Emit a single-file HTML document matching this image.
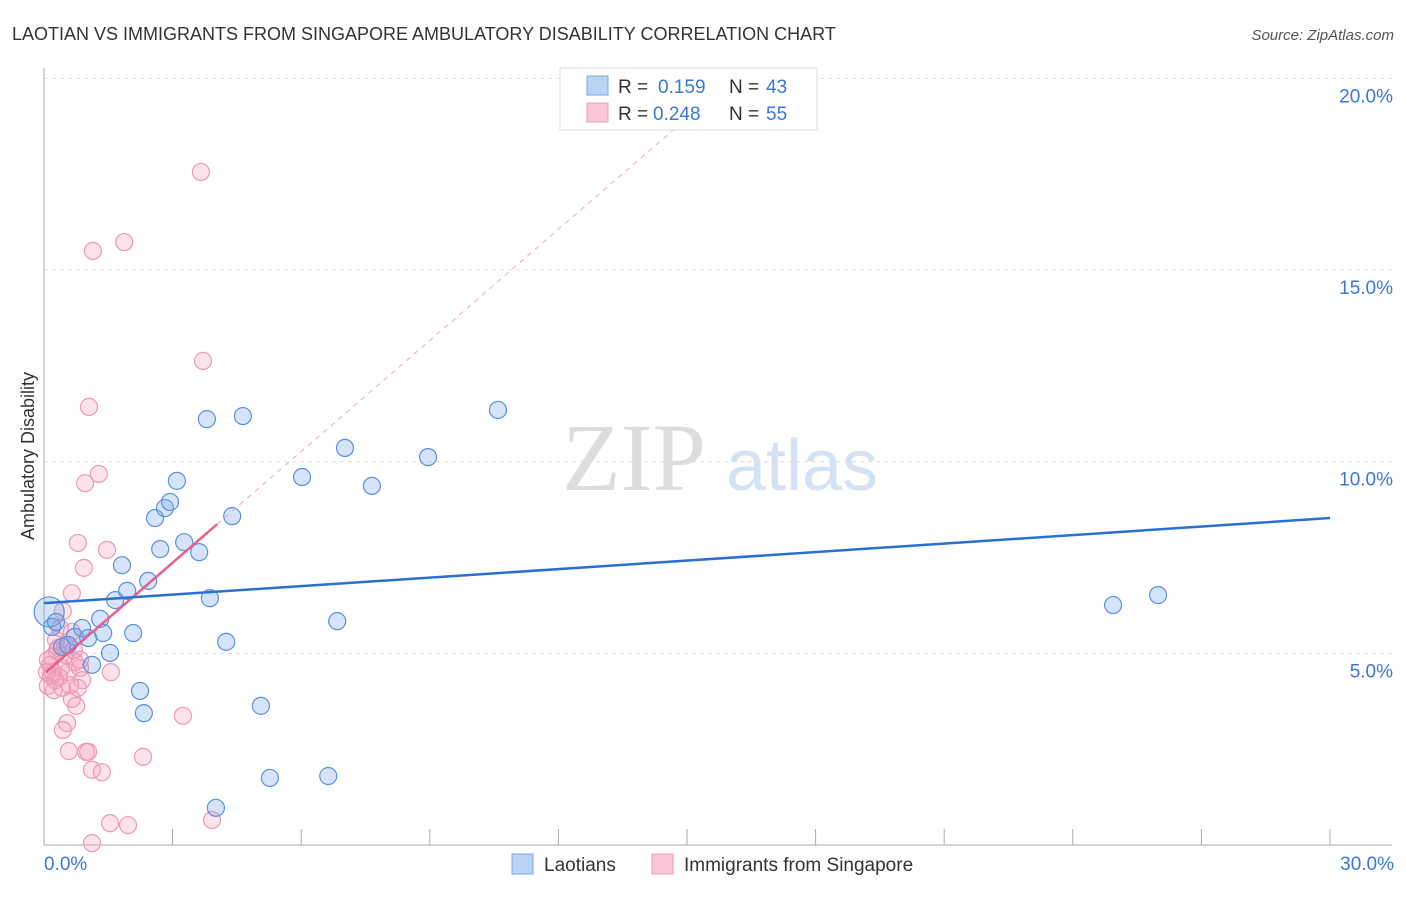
<!DOCTYPE html>
<html><head><meta charset="utf-8"><style>
body{margin:0;background:#fff;font-family:"Liberation Sans",sans-serif}
</style></head><body>
<svg width="1406" height="892" viewBox="0 0 1406 892" xmlns="http://www.w3.org/2000/svg" font-family="Liberation Sans, sans-serif">
<text x="12" y="40" font-size="18" fill="#333">LAOTIAN VS IMMIGRANTS FROM SINGAPORE AMBULATORY DISABILITY CORRELATION CHART</text>
<text x="1394" y="40" font-size="15" fill="#555" text-anchor="end" font-style="italic">Source: ZipAtlas.com</text>
<g>
<text x="634" y="490" font-size="96" font-family="Liberation Serif, serif" fill="#ddd" text-anchor="middle">ZIP</text>
<text x="802" y="490" font-size="72" fill="#d5e2f3" text-anchor="middle">atlas</text>
</g>
<g id="grid"></g>
<g id="axes"></g>
<g id="marks"></g>
<text transform="translate(34,456) rotate(-90)" font-size="18" fill="#333" text-anchor="middle">Ambulatory Disability</text>
<g>
<rect x="560" y="68" width="257" height="62" fill="#fff" stroke="#ddd"/>
<rect x="587" y="76" width="21" height="19" fill="#b9d3f5" stroke="#7aa6e0"/>
<rect x="587" y="103" width="21" height="19" fill="#f9c6d5" stroke="#eba0b8"/>
<text x="618" y="93" font-size="19" fill="#333">R = </text><text x="658" y="93" font-size="19" fill="#3a78d0">0.159</text>
<text x="729" y="93" font-size="19" fill="#333">N = </text><text x="766" y="93" font-size="19" fill="#3a78d0">43</text>
<text x="618" y="120" font-size="19" fill="#333">R = </text><text x="653" y="120" font-size="19" fill="#3a78d0">0.248</text>
<text x="729" y="120" font-size="19" fill="#333">N = </text><text x="766" y="120" font-size="19" fill="#3a78d0">55</text>
</g>
<g>
<rect x="512" y="854" width="21" height="20" fill="#b9d3f5" stroke="#7aa6e0"/>
<text x="544" y="871" font-size="19" fill="#333">Laotians</text>
<rect x="652" y="854" width="21" height="20" fill="#f9c6d5" stroke="#eba0b8"/>
<text x="684" y="871" font-size="19" fill="#333">Immigrants from Singapore</text>
</g>
</svg>
<script>
const blueX=[0.12,0.19,0.42,0.72,0.89,1.12,1.31,1.38,1.54,1.66,1.82,1.94,2.08,2.24,2.33,2.43,2.59,2.71,2.82,2.94,3.10,3.27,3.62,3.80,3.87,4.25,4.39,4.64,5.06,5.27,6.02,6.63,6.84,7.02,7.65,8.96,10.59,24.94,25.99,4.01,0.28,0.56,1.03];
const blueY=[6.08,5.69,5.17,5.43,5.66,4.70,5.90,5.53,5.01,6.39,7.30,6.63,5.53,4.02,3.44,6.89,8.53,7.72,8.79,8.95,9.50,7.90,7.64,11.11,6.44,5.30,8.58,11.19,3.63,1.75,9.60,1.80,5.84,10.36,9.37,10.12,11.35,6.26,6.52,0.97,5.82,5.22,5.40];
const pinkX=[3.66,1.87,1.14,3.71,1.05,1.28,0.96,0.79,1.47,0.93,0.65,0.44,0.37,0.65,0.33,0.19,0.14,0.21,0.26,0.09,0.42,0.56,0.84,0.89,0.79,0.65,0.75,1.56,0.54,0.44,0.58,0.98,1.03,1.12,1.35,2.31,3.24,1.54,1.96,3.92,1.12,0.30,0.51,0.72,0.09,0.28,0.40,0.61,0.16,0.35,0.49,0.23,0.07,0.84,0.70];
const pinkY=[17.56,15.73,15.50,12.63,11.43,9.68,9.44,7.88,7.70,7.23,6.57,6.10,5.66,5.56,5.14,4.90,4.70,4.51,4.30,4.15,4.10,4.51,4.62,4.30,4.10,3.81,3.63,4.51,3.18,3.00,2.45,2.43,2.43,1.96,1.90,2.30,3.37,0.57,0.52,0.65,0.05,5.06,4.96,4.77,4.83,5.35,4.62,4.17,4.41,4.38,5.22,4.04,4.51,4.83,5.09];
const yTicks=[5,10,15,20];
const yTickLabels=["5.0%","10.0%","15.0%","20.0%"];
const xTicks=[3,6,9,12,15,18,21,24,27,30];
const blueTrend=[0,6.31,30,8.53];
const pinkTrend=[0.05,4.51,4.04,8.37,15.1,19.06];
const NS="http://www.w3.org/2000/svg";
const sx=v=>44+v/30*1286, sy=v=>845-v*38.33;
function mk(tag,attrs,parent){const e=document.createElementNS(NS,tag);for(const k in attrs)e.setAttribute(k,attrs[k]);document.getElementById(parent).appendChild(e);return e;}
yTicks.forEach((t,i)=>{
 const l=mk('line',{x1:44,x2:1392,y1:sy(t),y2:sy(t),stroke:'#ddd','stroke-dasharray':'4,4'},'grid');
 
 
 const tx=mk('text',{x:1393,y:sy(t)+24,'font-size':19,fill:'#3a78d0','text-anchor':'end'},'grid');
 tx.textContent=yTickLabels[i];
 
 
});
const ax=mk('line',{x1:44,x2:44,y1:68,y2:845,stroke:'#aaa'},'axes');


const bx=mk('line',{x1:44,x2:1392,y1:845,y2:845,stroke:'#aaa'},'axes');


xTicks.forEach(t=>{
 const l=mk('line',{x1:sx(t),x2:sx(t),y1:829,y2:845,stroke:'#aaa'},'axes');
 
 
});
const x0=mk('text',{x:44,y:870,'font-size':19,fill:'#3a78d0'},'axes');x0.textContent='0.0%';


const x1=mk('text',{x:1394,y:870,'font-size':19,fill:'#3a78d0','text-anchor':'end'},'axes');x1.textContent='30.0%';


pinkX.forEach((v,i)=>{
 const c=mk('circle',{cx:sx(v),cy:sy(pinkY[i]),r:8.5,fill:'rgba(244,160,188,0.3)',stroke:'#eb9ab4','stroke-width':1.2},'marks');
 
 
});
blueX.forEach((v,i)=>{
 const c=mk('circle',{cx:sx(v),cy:sy(blueY[i]),r:i===0?15:8.5,fill:'rgba(120,165,235,0.3)',stroke:'#5b90dc','stroke-width':1.2},'marks');
 
 
});
const pd=mk('line',{x1:sx(pinkTrend[2]),y1:sy(pinkTrend[3]),x2:sx(pinkTrend[4]),y2:sy(pinkTrend[5]),stroke:'#f0a8bf','stroke-dasharray':'5,5','stroke-width':1},'marks');


const ps=mk('line',{x1:sx(pinkTrend[0]),y1:sy(pinkTrend[1]),x2:sx(pinkTrend[2]),y2:sy(pinkTrend[3]),stroke:'#e8608a','stroke-width':2.5},'marks');


const bt=mk('line',{x1:sx(blueTrend[0]),y1:sy(blueTrend[1]),x2:sx(blueTrend[2]),y2:sy(blueTrend[3]),stroke:'#2a70d0','stroke-width':2.5},'marks');


</script>
</body></html>
